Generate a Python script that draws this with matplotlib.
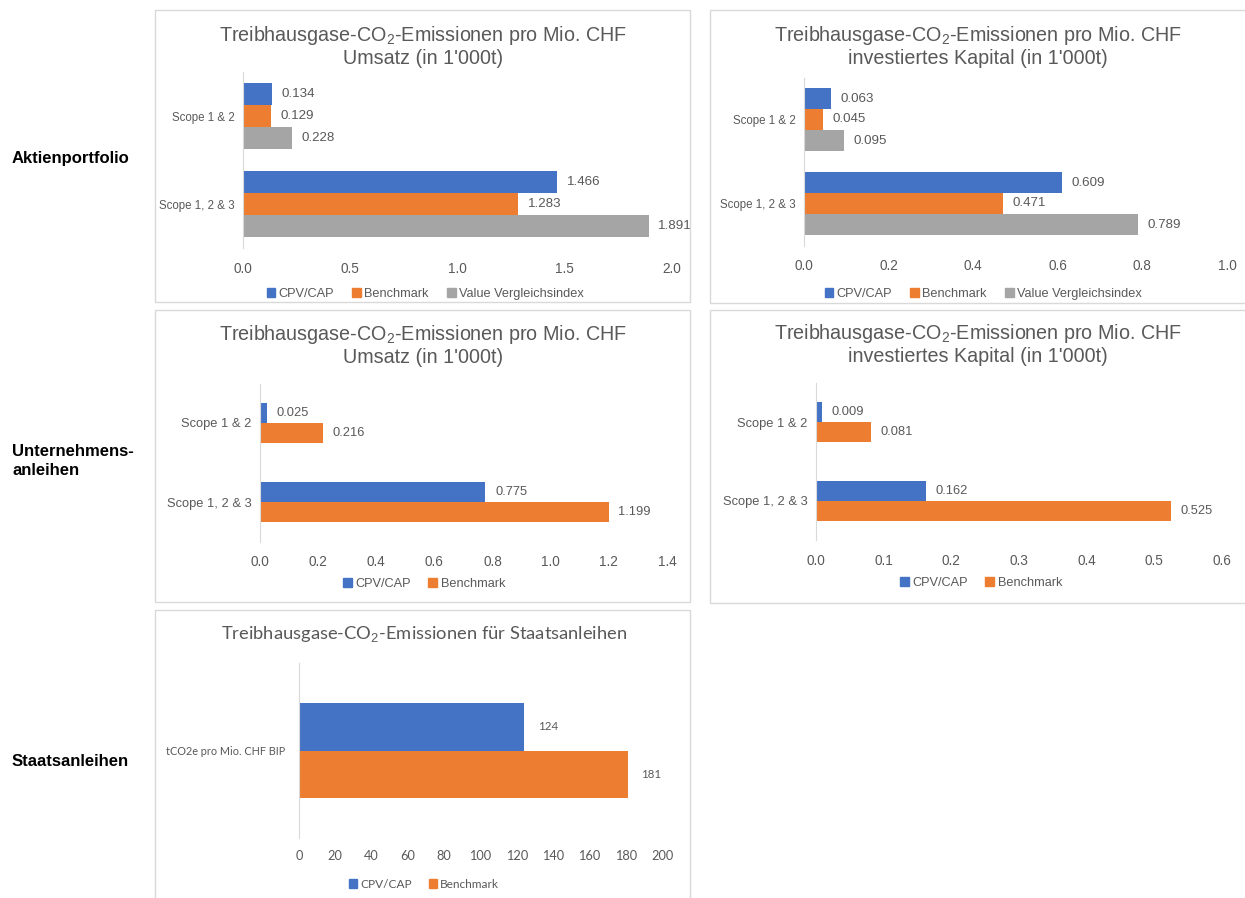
import matplotlib
matplotlib.use("Agg")
import matplotlib.pyplot as plt
from matplotlib.patches import Rectangle, Patch

plt.rcParams['font.family'] = ['Liberation Sans', 'DejaVu Sans']
plt.rcParams['mathtext.fontset'] = 'custom'
plt.rcParams['mathtext.rm'] = 'Liberation Sans'

W, H = 1245, 898
TXT = "#595959"
GRID = "#D9D9D9"
COLORS = ["#4472C4", "#ED7D31", "#A5A5A5"]

# data
series_3 = ["CPV/CAP", "Benchmark", "Value Vergleichsindex"]
series_2 = ["CPV/CAP", "Benchmark"]
scopes = ["Scope 1 & 2", "Scope 1, 2 & 3"]

aktien_umsatz = [[0.134, 1.466], [0.129, 1.283], [0.228, 1.891]]
aktien_kapital = [[0.063, 0.609], [0.045, 0.471], [0.095, 0.789]]
anleihen_umsatz = [[0.025, 0.775], [0.216, 1.199]]
anleihen_kapital = [[0.009, 0.162], [0.081, 0.525]]
staat_cat = ["tCO2e pro Mio. CHF BIP"]
staat_vals = [[124], [181]]

title_umsatz = "Treibhausgase-CO$_\\mathrm{2}$-Emissionen pro Mio. CHF\nUmsatz (in 1'000t)"
title_kapital = "Treibhausgase-CO$_\\mathrm{2}$-Emissionen pro Mio. CHF\ninvestiertes Kapital (in 1'000t)"
title_staat = "Treibhausgase-CO$_\\mathrm{2}$-Emissionen für Staatsanleihen"

fig = plt.figure(figsize=(W / 100, H / 100), dpi=100)


def frac_rect(x0, y0, x1, y1):
    return [x0 / W, 1 - y1 / H, (x1 - x0) / W, (y1 - y0) / H]


def box(x0, y0, x1, y1):
    fig.patches.append(Rectangle((x0 / W, 1 - y1 / H), (x1 - x0) / W, (y1 - y0) / H,
                                 transform=fig.transFigure, fill=False,
                                 edgecolor=GRID, linewidth=1.0))


def panel(rect, cats, names, vals, xmax, ticks, tickfmt, valfmt, title, title_xy,
          legend_xy, bar_h, fs_cat=8.3, fs_val=9.6, fs_tick=9.8, fs_leg=9.2,
          fs_title=14.2, family=None, pad=7, cat_pad=6, tick_pad=10):
    ax = fig.add_axes(frac_rect(*rect))
    ncat = len(cats)
    nser = len(vals)
    pos = list(range(ncat))
    fam = family or ['Liberation Sans', 'DejaVu Sans']
    for i, v in enumerate(vals):
        off = (i - (nser - 1) / 2) * bar_h
        bars = ax.barh([p + off for p in pos], v, height=bar_h, color=COLORS[i], label=names[i])
        ax.bar_label(bars, labels=[valfmt.format(x) for x in v], padding=pad,
                     fontsize=fs_val, color=TXT, family=fam)
    ax.set_xlim(0, xmax)
    ax.set_ylim(ncat - 0.5, -0.5)
    ax.set_yticks(pos)
    ax.set_yticklabels(cats, fontsize=fs_cat, color=TXT, family=fam)
    ax.set_xticks(ticks)
    ax.set_xticklabels([tickfmt.format(t) for t in ticks], fontsize=fs_tick, color=TXT, family=fam)
    ax.tick_params(length=0)
    ax.tick_params(axis='x', pad=tick_pad)
    ax.tick_params(axis='y', pad=cat_pad)
    for s in ["top", "right", "bottom"]:
        ax.spines[s].set_visible(False)
    ax.spines["left"].set_color(GRID)
    ax.patch.set_visible(False)
    fig.text(title_xy[0] / W, 1 - title_xy[1] / H, title, ha="center", va="center",
             fontsize=fs_title, color=TXT, family=fam, linespacing=1.1)
    handles = [Patch(color=COLORS[i]) for i in range(nser)]
    fig.legend(handles, names, loc="center", bbox_to_anchor=(legend_xy[0] / W, 1 - legend_xy[1] / H),
               ncol=nser, frameon=False, handlelength=0.7, handleheight=0.7,
               handletextpad=0.25, columnspacing=1.4, prop={'family': fam, 'size': fs_leg},
               labelcolor=TXT)
    return ax


# panel borders
box(155, 10, 690, 302)
box(710, 10, 1250, 303)
box(155, 310, 690, 602)
box(710, 310, 1250, 603)
box(155, 610, 690, 905)

panel((243, 72, 672, 248), scopes, series_3, aktien_umsatz, 2.0,
      [0, 0.5, 1.0, 1.5, 2.0], "{:.1f}", "{:.3f}", title_umsatz, (423, 46), (425, 294), 0.25)
panel((804, 77.5, 1227, 245.5), scopes, series_3, aktien_kapital, 1.0,
      [0, 0.2, 0.4, 0.6, 0.8, 1.0], "{:.1f}", "{:.3f}", title_kapital, (978, 46), (983, 294), 0.25)
panel((260, 383.5, 667, 541.5), scopes, series_2, anleihen_umsatz, 1.4,
      [0, 0.2, 0.4, 0.6, 0.8, 1.0, 1.2, 1.4], "{:.1f}", "{:.3f}", title_umsatz, (423, 345), (424, 584), 0.253,
      fs_cat=9.3, fs_val=9.3)
panel((816, 383, 1222, 540), scopes, series_2, anleihen_kapital, 0.6,
      [0, 0.1, 0.2, 0.3, 0.4, 0.5, 0.6], "{:.1f}", "{:.3f}", title_kapital, (978, 344), (981, 583), 0.253,
      fs_cat=9.3, fs_val=9.3)
panel((299, 663, 662, 838), staat_cat, series_2, staat_vals, 200,
      list(range(0, 201, 20)), "{:d}", "{:d}", title_staat, (424, 634), (424, 884), 0.27,
      fs_cat=7.8, fs_val=8.3, fs_tick=9.2, fs_leg=8.6, fs_title=13.2,
      family=['Lato', 'DejaVu Sans'], pad=10, cat_pad=10, tick_pad=9)

# row labels
rows = [("Aktienportfolio", 158), ("Unternehmens-\nanleihen", 461), ("Staatsanleihen", 762)]
for lab, yy in rows:
    fig.text(12 / W, 1 - yy / H, lab, ha="left", va="center", fontsize=12,
             fontweight="bold", color="black", linespacing=1.3)

fig.savefig("out.png", dpi=100)
